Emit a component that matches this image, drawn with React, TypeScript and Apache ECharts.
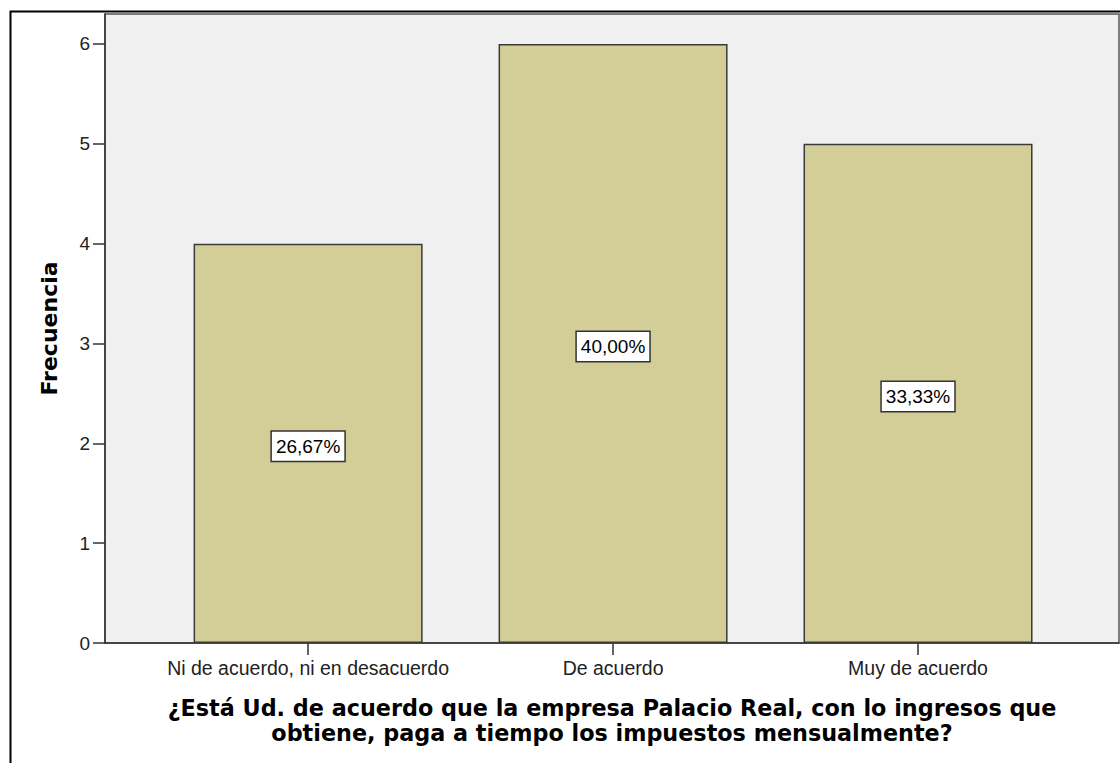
import React, { useEffect, useRef } from "react";
import * as echarts from "echarts";

const categories = ["Ni de acuerdo, ni en desacuerdo", "De acuerdo", "Muy de acuerdo"];
const frequencies = [4, 6, 5];
const percentLabels = ["26,67%", "40,00%", "33,33%"];
const yTickValues = [0, 1, 2, 3, 4, 5, 6];
const xTickValues = [0, 1, 2];
const xAxisTitle = "¿Está Ud. de acuerdo que la empresa Palacio Real, con lo ingresos que\nobtiene, paga a tiempo los impuestos mensualmente?";
const yAxisTitle = "Frecuencia";

export default function App() {
  const ref = useRef<HTMLDivElement>(null);
  useEffect(() => {
    if (!ref.current) return;
    const chart = echarts.init(ref.current, null, { renderer: "svg" });
    const sansFont = "'Liberation Sans', Arial, sans-serif";
    const titleFont = "'DejaVu Sans', Verdana, sans-serif";
    chart.setOption({
      animation: false,
      backgroundColor: "#ffffff",
      grid: {
        left: 105,
        top: 14,
        width: 1014,
        height: 629,
        show: true,
        backgroundColor: "#f0f0f0",
        borderColor: "#555555",
        borderWidth: 1.5,
      },
      xAxis: {
        type: "value",
        min: -0.666,
        max: 2.659,
        splitLine: { show: false },
        axisLine: { show: true, onZero: false, lineStyle: { color: "#333333", width: 1.5 } },
        axisTick: { show: true, length: 12, customValues: xTickValues, lineStyle: { color: "#333333", width: 1.5 } },
        axisLabel: {
          customValues: xTickValues,
          formatter: (v: number) => categories[Math.round(v)] ?? "",
          fontFamily: sansFont,
          fontSize: 19.5,
          color: "#222222",
          margin: 15,
        },
        name: xAxisTitle,
        nameLocation: "middle",
        nameGap: 52,
        nameTextStyle: {
          fontFamily: titleFont,
          fontWeight: "bold",
          fontSize: 22.3,
          lineHeight: 25,
          color: "#000000",
          align: "center",
        },
      },
      yAxis: {
        type: "value",
        min: 0,
        max: 6.3,
        interval: 1,
        splitLine: { show: false },
        axisLine: { show: true, onZero: false, lineStyle: { color: "#333333", width: 1.5 } },
        axisTick: { show: true, length: 12, customValues: yTickValues, lineStyle: { color: "#333333", width: 1.5 } },
        axisLabel: {
          customValues: yTickValues,
          fontFamily: sansFont,
          fontSize: 19,
          color: "#222222",
          margin: 15,
        },
        name: yAxisTitle,
        nameLocation: "middle",
        nameGap: 45,
        nameTextStyle: {
          fontFamily: titleFont,
          fontWeight: "bold",
          fontSize: 22,
          color: "#000000",
        },
      },
      series: [
        {
          type: "bar",
          barWidth: 229,
          data: frequencies.map((f, i) => [i, f]),
          itemStyle: { color: "#d3ce97", borderColor: "#3a3a3a", borderWidth: 1.5 },
          label: {
            show: true,
            position: "inside",
            offset: [0, 3],
            formatter: (p: any) => percentLabels[p.dataIndex],
            fontFamily: sansFont,
            fontSize: 19,
            lineHeight: 21,
            color: "#000000",
            backgroundColor: "#ffffff",
            borderColor: "#333333",
            borderWidth: 1.5,
            padding: [4, 4, 4, 4],
          },
        },
      ],
      graphic: [
        {
          type: "rect",
          shape: { x: 10.5, y: 11.5, width: 1200, height: 800 },
          style: { fill: "none", stroke: "#000000", lineWidth: 2 },
          silent: true,
          z: 100,
        },
      ],
    });
    return () => chart.dispose();
  }, []);
  return (
    <div
      ref={ref}
      style={{ position: "fixed", left: 0, top: 0, width: 1120, height: 763 }}
    />
  );
}
